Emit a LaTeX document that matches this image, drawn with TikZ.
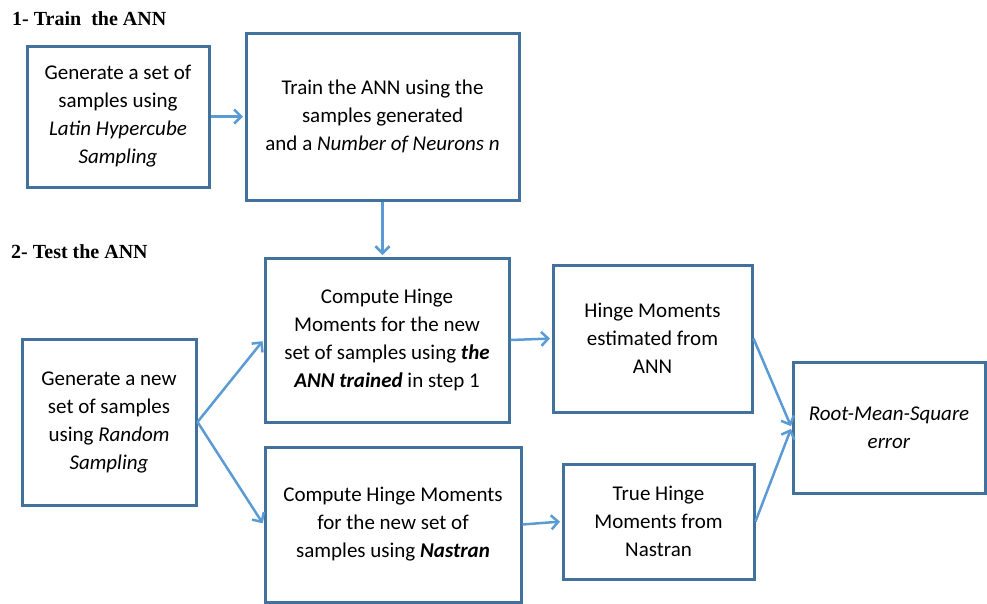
\documentclass[tikz,border=0pt]{standalone}
\usepackage{fontspec}
\setmainfont{Carlito}
\newfontfamily\headfont{Liberation Serif}
\usetikzlibrary{arrows.meta}
\definecolor{boxline}{RGB}{65,113,156}
\definecolor{arrowblue}{RGB}{91,155,213}
\tikzset{
  stepbox/.style={draw=boxline, line width=3pt, rectangle, align=center,
    inner sep=0pt, font=\fontsize{21}{28}\selectfont},
  flow/.style={draw=arrowblue, line width=2.5pt,
    -{Straight Barb[length=7pt,width=14pt,line width=2.5pt]}, shorten >=1.5pt},
  heading/.style={anchor=base west, inner sep=0pt,
    font=\headfont\bfseries\fontsize{20}{24}\selectfont}
}
\begin{document}
\begin{tikzpicture}[x=1pt,y=-1pt]
\useasboundingbox (0,0) rectangle (987,603);

\node[heading] (h1) at (12,25) {1- Train\ \ the ANN};
\node[heading] (h2) at (11,258) {2- Test the ANN};

\node[stepbox, minimum width=182pt, minimum height=141pt] (lhs) at (118,116.5)
  {Generate a set of\\samples using\\\textit{Latin Hypercube}\\\textit{Sampling}};
\node[stepbox, minimum width=273pt, minimum height=167pt] (train) at (382.5,116.5)
  {Train the ANN using the\\samples generated\\and a \textit{Number of Neurons n}};
\node[stepbox, minimum width=174pt, minimum height=166pt] (rnd) at (109,422)
  {Generate a new\\set of samples\\using \textit{Random}\\\textit{Sampling}};
\node[stepbox, minimum width=244pt, minimum height=164pt] (cann) at (387,340)
  {Compute Hinge\\Moments for the new\\set of samples using \textbf{\textit{the}}\\\textbf{\textit{ANN trained}} in step 1};
\node[stepbox, minimum width=256pt, minimum height=155pt] (cnas) at (393,524.5)
  {Compute Hinge Moments\\for the new set of\\samples using \textbf{\textit{Nastran}}};
\node[stepbox, minimum width=199pt, minimum height=147pt] (hest) at (652.5,338.5)
  {Hinge Moments\\estimated from\\ANN};
\node[stepbox, minimum width=191pt, minimum height=115pt] (htrue) at (658.5,521.5)
  {True Hinge\\Moments from\\Nastran};
\node[stepbox, minimum width=192pt, minimum height=131pt] (rms) at (889,427.5)
  {\textit{Root-Mean-Square}\\\textit{error}};

\draw[flow] (lhs.east) -- (train.west |- lhs.east);
\draw[flow] (train.south) -- (train.south |- cann.north);
\draw[flow] (rnd.east) -- (cann.west);
\draw[flow] (rnd.east) -- (cnas.west);
\draw[flow] (cann.east) -- (hest.west);
\draw[flow] (cnas.east) -- (htrue.west);
\draw[flow] (hest.east) -- (rms.west);
\draw[flow] (htrue.east) -- (rms.west);
\end{tikzpicture}
\end{document}
